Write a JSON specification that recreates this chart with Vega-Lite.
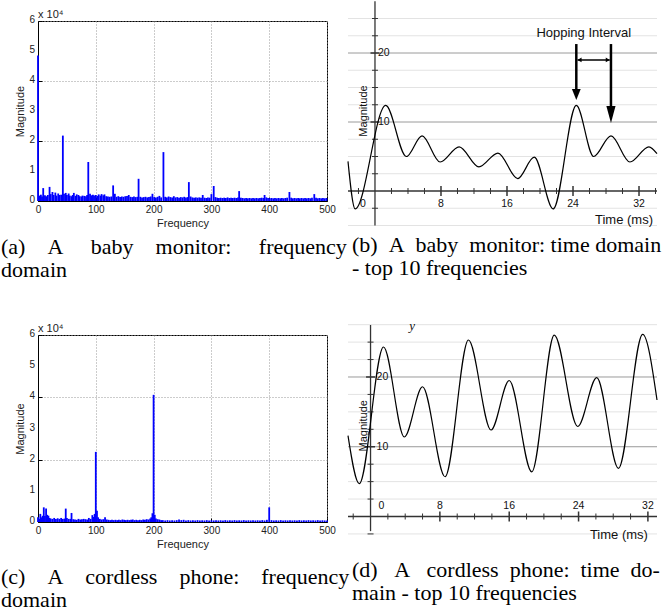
{
  "$schema": "https://vega.github.io/schema/vega-lite/v6.json",
  "padding": 0,
  "background": "white",
  "columns": 2,
  "bounds": "flush",
  "align": "each",
  "spacing": {"row": 134, "column": 21},
  "config": {"view": {"stroke": null}, "font": "Liberation Sans"},
  "datasets": {
    "specA": [
      {"f":0,"m":48500},{"f":2,"m":1800},{"f":5,"m":2100},{"f":7,"m":1500},{"f":9,"m":4300},{"f":12,"m":1900},{"f":14,"m":1600},{"f":17,"m":2000},{"f":20,"m":4700},{"f":22,"m":2300},{"f":25,"m":3000},{"f":27,"m":2000},{"f":30,"m":2800},{"f":32,"m":1800},{"f":35,"m":2500},{"f":37,"m":2000},{"f":40,"m":2100},{"f":43,"m":21800},{"f":45,"m":2400},{"f":48,"m":2700},{"f":50,"m":2000},{"f":53,"m":2500},{"f":55,"m":1800},{"f":58,"m":1600},{"f":60,"m":2000},{"f":62,"m":2700},{"f":65,"m":1700},{"f":67,"m":2200},{"f":70,"m":2000},{"f":72,"m":1600},{"f":75,"m":1500},{"f":77,"m":1800},{"f":80,"m":1700},{"f":83,"m":1600},{"f":85,"m":2000},{"f":87,"m":13000},{"f":90,"m":2400},{"f":92,"m":1900},{"f":95,"m":2100},{"f":97,"m":1800},{"f":100,"m":2000},{"f":103,"m":1700},{"f":105,"m":2200},{"f":108,"m":1800},{"f":110,"m":2300},{"f":113,"m":1900},{"f":115,"m":2200},{"f":118,"m":1600},{"f":121,"m":1500},{"f":124,"m":1400},{"f":127,"m":1500},{"f":130,"m":5200},{"f":133,"m":2400},{"f":136,"m":1400},{"f":139,"m":1600},{"f":142,"m":1300},{"f":145,"m":1500},{"f":148,"m":1400},{"f":151,"m":1600},{"f":154,"m":1700},{"f":157,"m":2000},{"f":160,"m":1400},{"f":163,"m":1300},{"f":166,"m":1500},{"f":169,"m":1300},{"f":172,"m":1400},{"f":174,"m":7400},{"f":177,"m":1400},{"f":180,"m":1200},{"f":183,"m":1300},{"f":186,"m":1400},{"f":189,"m":1200},{"f":192,"m":1300},{"f":195,"m":1500},{"f":198,"m":2400},{"f":201,"m":1300},{"f":204,"m":1200},{"f":207,"m":1400},{"f":210,"m":1700},{"f":213,"m":1200},{"f":217,"m":16300},{"f":220,"m":1400},{"f":223,"m":1200},{"f":226,"m":1500},{"f":229,"m":1300},{"f":232,"m":1200},{"f":235,"m":1600},{"f":238,"m":1200},{"f":241,"m":1300},{"f":244,"m":1100},{"f":247,"m":1300},{"f":250,"m":1200},{"f":253,"m":1400},{"f":256,"m":1200},{"f":259,"m":1300},{"f":261,"m":6300},{"f":264,"m":1500},{"f":267,"m":1200},{"f":270,"m":1100},{"f":273,"m":1200},{"f":276,"m":1100},{"f":279,"m":1200},{"f":282,"m":1100},{"f":285,"m":2000},{"f":288,"m":1100},{"f":291,"m":1000},{"f":294,"m":1200},{"f":297,"m":1100},{"f":300,"m":2300},{"f":304,"m":5000},{"f":307,"m":1300},{"f":310,"m":1100},{"f":313,"m":1000},{"f":316,"m":1100},{"f":319,"m":1000},{"f":322,"m":1100},{"f":325,"m":1000},{"f":328,"m":1200},{"f":331,"m":1000},{"f":334,"m":1100},{"f":337,"m":1000},{"f":340,"m":1100},{"f":343,"m":1000},{"f":346,"m":1200},{"f":348,"m":3300},{"f":351,"m":1100},{"f":354,"m":1000},{"f":357,"m":900},{"f":360,"m":1000},{"f":363,"m":900},{"f":366,"m":1000},{"f":369,"m":900},{"f":372,"m":1000},{"f":375,"m":900},{"f":378,"m":1000},{"f":381,"m":900},{"f":384,"m":1000},{"f":387,"m":1100},{"f":390,"m":1000},{"f":392,"m":2000},{"f":395,"m":1200},{"f":398,"m":1000},{"f":401,"m":900},{"f":404,"m":1000},{"f":407,"m":900},{"f":410,"m":1000},{"f":413,"m":900},{"f":416,"m":1000},{"f":419,"m":900},{"f":422,"m":1000},{"f":425,"m":900},{"f":428,"m":1000},{"f":431,"m":1100},{"f":435,"m":3000},{"f":438,"m":1100},{"f":441,"m":900},{"f":444,"m":1000},{"f":447,"m":900},{"f":450,"m":1000},{"f":453,"m":900},{"f":456,"m":1000},{"f":459,"m":900},{"f":462,"m":1000},{"f":465,"m":900},{"f":468,"m":1000},{"f":471,"m":900},{"f":474,"m":1100},{"f":478,"m":2300},{"f":481,"m":1100},{"f":484,"m":900},{"f":487,"m":1000},{"f":490,"m":900},{"f":493,"m":1000},{"f":496,"m":900},{"f":499,"m":1000}
    ],
    "specC": [
      {"f":0,"m":1500},{"f":2,"m":1000},{"f":4,"m":2600},{"f":6,"m":1500},{"f":8,"m":2000},{"f":10,"m":4700},{"f":12,"m":1900},{"f":14,"m":4300},{"f":16,"m":2300},{"f":18,"m":2000},{"f":20,"m":1300},{"f":22,"m":1100},{"f":25,"m":1000},{"f":28,"m":1300},{"f":31,"m":1000},{"f":34,"m":1200},{"f":37,"m":1000},{"f":40,"m":1300},{"f":43,"m":1000},{"f":46,"m":1100},{"f":48,"m":4300},{"f":50,"m":1300},{"f":53,"m":1000},{"f":56,"m":1000},{"f":58,"m":2900},{"f":61,"m":900},{"f":64,"m":800},{"f":67,"m":700},{"f":70,"m":1000},{"f":73,"m":800},{"f":76,"m":900},{"f":79,"m":1000},{"f":82,"m":900},{"f":85,"m":800},{"f":88,"m":1300},{"f":91,"m":1000},{"f":94,"m":2200},{"f":96,"m":1600},{"f":98,"m":2600},{"f":100,"m":22500},{"f":102,"m":3600},{"f":104,"m":1500},{"f":107,"m":1000},{"f":110,"m":800},{"f":113,"m":900},{"f":116,"m":1500},{"f":119,"m":800},{"f":122,"m":700},{"f":125,"m":600},{"f":128,"m":700},{"f":131,"m":600},{"f":134,"m":700},{"f":137,"m":600},{"f":140,"m":700},{"f":143,"m":600},{"f":146,"m":800},{"f":149,"m":700},{"f":152,"m":600},{"f":155,"m":700},{"f":158,"m":600},{"f":161,"m":700},{"f":164,"m":800},{"f":167,"m":600},{"f":170,"m":700},{"f":173,"m":600},{"f":176,"m":700},{"f":179,"m":600},{"f":182,"m":800},{"f":185,"m":700},{"f":188,"m":900},{"f":191,"m":800},{"f":194,"m":1100},{"f":196,"m":1500},{"f":198,"m":2800},{"f":200,"m":40800},{"f":202,"m":2300},{"f":204,"m":1100},{"f":207,"m":900},{"f":210,"m":800},{"f":213,"m":600},{"f":216,"m":600},{"f":220,"m":500},{"f":224,"m":600},{"f":228,"m":500},{"f":232,"m":600},{"f":236,"m":500},{"f":240,"m":600},{"f":244,"m":800},{"f":248,"m":600},{"f":252,"m":700},{"f":256,"m":500},{"f":260,"m":600},{"f":264,"m":500},{"f":268,"m":550},{"f":272,"m":500},{"f":276,"m":600},{"f":280,"m":500},{"f":284,"m":550},{"f":288,"m":500},{"f":292,"m":600},{"f":296,"m":500},{"f":300,"m":550},{"f":304,"m":500},{"f":308,"m":600},{"f":312,"m":500},{"f":316,"m":550},{"f":320,"m":500},{"f":324,"m":600},{"f":328,"m":500},{"f":332,"m":550},{"f":336,"m":500},{"f":340,"m":600},{"f":344,"m":500},{"f":348,"m":550},{"f":352,"m":500},{"f":356,"m":600},{"f":360,"m":500},{"f":364,"m":550},{"f":368,"m":500},{"f":372,"m":600},{"f":376,"m":500},{"f":380,"m":550},{"f":384,"m":500},{"f":388,"m":600},{"f":392,"m":500},{"f":396,"m":700},{"f":400,"m":4700},{"f":404,"m":600},{"f":408,"m":500},{"f":412,"m":550},{"f":416,"m":500},{"f":420,"m":600},{"f":424,"m":500},{"f":428,"m":550},{"f":432,"m":500},{"f":436,"m":600},{"f":440,"m":500},{"f":444,"m":550},{"f":448,"m":500},{"f":452,"m":600},{"f":456,"m":500},{"f":460,"m":550},{"f":464,"m":500},{"f":468,"m":600},{"f":472,"m":500},{"f":476,"m":550},{"f":480,"m":500},{"f":484,"m":600},{"f":488,"m":500},{"f":492,"m":550},{"f":496,"m":500},{"f":500,"m":500}
    ],
    "yLabels": [
      {"m":0,"label":"0"},{"m":10000,"label":"1"},{"m":20000,"label":"2"},{"m":30000,"label":"3"},{"m":40000,"label":"4"},{"m":50000,"label":"5"},{"m":60000,"label":"6"}
    ],
    "curveB": [
      {"t":-3.27,"v":4.3},{"t":-2.4,"v":-2.6},{"t":1.3,"v":12.4},{"t":3.8,"v":5.0},{"t":5.7,"v":8.0},{"t":7.9,"v":4.2},{"t":10.2,"v":6.4},{"t":12.6,"v":3.5},{"t":14.9,"v":5.5},{"t":17.3,"v":1.8},{"t":19.3,"v":4.9},{"t":21.6,"v":-2.6},{"t":24.4,"v":12.4},{"t":26.5,"v":5.0},{"t":28.6,"v":8.0},{"t":30.9,"v":4.2},{"t":33.2,"v":6.4},{"t":34.18,"v":5.4}
    ],
    "curveD": [
      {"t":-2.6,"v":11.6},{"t":-1.3,"v":4.7},{"t":1.5,"v":24.3},{"t":3.9,"v":11.4},{"t":6.0,"v":18.6},{"t":8.6,"v":5.7},{"t":11.3,"v":25.3},{"t":13.9,"v":12.4},{"t":16.0,"v":19.5},{"t":18.6,"v":6.4},{"t":21.2,"v":26.0},{"t":23.9,"v":12.9},{"t":26.1,"v":19.9},{"t":28.6,"v":6.9},{"t":31.4,"v":26.1},{"t":33.05,"v":16.7}
    ]
  },
  "concat": [
    {
      "width": 289, "height": 180,
      "view": {"stroke": "black", "strokeWidth": 1},
      "title": {"text": ["(a)\u00a0\u00a0\u00a0\u00a0A\u00a0\u00a0\u00a0\u00a0\u00a0baby\u00a0\u00a0\u00a0\u00a0monitor:\u00a0\u00a0\u00a0\u00a0\u00a0frequency", "domain"], "orient": "bottom", "anchor": "start", "frame": "group", "dx": -37, "offset": 9, "font": "Liberation Serif", "fontSize": 22, "fontWeight": "normal", "lineHeight": 23, "color": "black"},
      "layer": [
        {
          "data": {"name": "specA"},
          "mark": {"type": "rule", "color": "#0000ff", "strokeWidth": 1.8},
          "encoding": {
            "x": {"field": "f", "type": "quantitative", "scale": {"domain": [0, 500], "nice": false, "zero": false},
              "axis": {"values": [0,100,200,300,400,500], "title": "Frequency", "grid": true, "gridDash": [1,2], "gridColor": "#999999", "gridOpacity": 1, "domainColor": "black", "tickColor": "black", "tickSize": -4, "labelFont": "Liberation Sans", "labelFontSize": 10, "labelColor": "#222222", "labelPadding": 7, "titleFont": "Liberation Sans", "titleFontSize": 11, "titleFontWeight": "normal", "titleColor": "#222222", "titlePadding": 3, "labelFlush": false, "labelOverlap": false}},
            "y": {"field": "m", "type": "quantitative", "scale": {"domain": [0, 60000], "nice": false, "zero": false},
              "axis": {"values": [0,10000,20000,30000,40000,50000,60000], "labels": false, "title": "Magnitude", "grid": true, "gridDash": [1,2], "gridColor": "#999999", "gridOpacity": 1, "domainColor": "black", "tickColor": "black", "tickSize": -4, "titleFont": "Liberation Sans", "titleFontSize": 11, "titleFontWeight": "normal", "titleColor": "#222222", "titlePadding": 12}},
            "y2": {"datum": 0}
          }
        },
        {
          "data": {"name": "yLabels"},
          "mark": {"type": "text", "align": "right", "baseline": "middle", "dx": -3, "dy": -1, "fontSize": 10, "font": "Liberation Sans", "color": "#222222"},
          "encoding": {
            "x": {"datum": 0, "type": "quantitative", "scale": {"domain": [0, 500], "nice": false, "zero": false}},
            "y": {"field": "m", "type": "quantitative", "scale": {"domain": [0, 60000], "nice": false, "zero": false}},
            "text": {"field": "label"}
          }
        },
        {
          "data": {"values": [{"label": "x 10\u2074"}]},
          "mark": {"type": "text", "align": "left", "baseline": "bottom", "dy": -1, "fontSize": 11, "font": "Liberation Sans", "color": "#222222"},
          "encoding": {
            "x": {"datum": 0, "type": "quantitative", "scale": {"domain": [0, 500], "nice": false, "zero": false}},
            "y": {"datum": 60000, "type": "quantitative", "scale": {"domain": [0, 60000], "nice": false, "zero": false}},
            "text": {"field": "label"}
          }
        }
      ]
    },
    {
      "width": 309, "height": 180,
      "title": {"text": ["(b)\u00a0\u00a0A\u00a0\u00a0baby\u00a0\u00a0monitor:\u00a0time\u00a0domain", "- top 10 frequencies"], "orient": "bottom", "anchor": "start", "frame": "group", "dx": 4, "offset": 8, "font": "Liberation Serif", "fontSize": 22, "fontWeight": "normal", "lineHeight": 23, "color": "black"},
      "layer": [
        {"data": {"values": [{"v":-5},{"v":-2.5},{"v":2.5},{"v":5},{"v":7.5},{"v":12.5},{"v":15},{"v":17.5},{"v":22.5},{"v":25}]},
         "mark": {"type": "rule", "color": "#e3e3e3", "strokeWidth": 1},
         "encoding": {"y": {"field": "v", "type": "quantitative", "scale": {"domain": [-1.45, 24.64], "nice": false, "zero": false}, "axis": null}}},
        {"data": {"values": [{"v":10},{"v":20}]},
         "mark": {"type": "rule", "color": "#9a9a9a", "strokeWidth": 1},
         "encoding": {"y": {"field": "v", "type": "quantitative", "scale": {"domain": [-1.45, 24.64], "nice": false, "zero": false}, "axis": null}}},
        {"data": {"values": [{"k": "x"}]},
         "mark": {"type": "rule", "color": "#333333", "strokeWidth": 1.3},
         "encoding": {"y": {"datum": 0, "type": "quantitative", "scale": {"domain": [-1.45, 24.64], "nice": false, "zero": false}, "axis": null}}},
        {"data": {"values": [{"k": "y"}]},
         "mark": {"type": "rule", "color": "#333333", "strokeWidth": 1.3},
         "encoding": {
           "x": {"datum": 0, "type": "quantitative", "scale": {"domain": [-3.27, 34.18], "nice": false, "zero": false}, "axis": null},
           "y": {"datum": -5, "type": "quantitative", "scale": {"domain": [-1.45, 24.64], "nice": false, "zero": false}, "axis": null},
           "y2": {"datum": 27.5}}},
        {"data": {"values": [{"t":-2},{"t":2},{"t":4},{"t":6},{"t":10},{"t":12},{"t":14},{"t":18},{"t":20},{"t":22},{"t":26},{"t":28},{"t":30},{"t":34}]},
         "mark": {"type": "tick", "orient": "vertical", "size": 6, "thickness": 1, "color": "#333333", "opacity": 1},
         "encoding": {
           "x": {"field": "t", "type": "quantitative", "scale": {"domain": [-3.27, 34.18], "nice": false, "zero": false}, "axis": null},
           "y": {"datum": 0, "type": "quantitative", "scale": {"domain": [-1.45, 24.64], "nice": false, "zero": false}, "axis": null}}},
        {"data": {"values": [{"t":8},{"t":16},{"t":24},{"t":32}]},
         "mark": {"type": "tick", "orient": "vertical", "size": 10, "thickness": 1.5, "color": "#333333", "opacity": 1},
         "encoding": {
           "x": {"field": "t", "type": "quantitative", "scale": {"domain": [-3.27, 34.18], "nice": false, "zero": false}, "axis": null},
           "y": {"datum": 0, "type": "quantitative", "scale": {"domain": [-1.45, 24.64], "nice": false, "zero": false}, "axis": null}}},
        {"data": {"values": [{"v":-2.5},{"v":2.5},{"v":5},{"v":7.5},{"v":12.5},{"v":15},{"v":17.5},{"v":22.5},{"v":25}]},
         "mark": {"type": "tick", "orient": "horizontal", "size": 6, "thickness": 1, "color": "#333333", "opacity": 1},
         "encoding": {
           "x": {"datum": 0, "type": "quantitative", "scale": {"domain": [-3.27, 34.18], "nice": false, "zero": false}, "axis": null},
           "y": {"field": "v", "type": "quantitative", "scale": {"domain": [-1.45, 24.64], "nice": false, "zero": false}, "axis": null}}},
        {"data": {"values": [{"v":10},{"v":20}]},
         "mark": {"type": "tick", "orient": "horizontal", "size": 9, "thickness": 1.5, "color": "#333333", "opacity": 1},
         "encoding": {
           "x": {"datum": 0, "type": "quantitative", "scale": {"domain": [-3.27, 34.18], "nice": false, "zero": false}, "axis": null},
           "y": {"field": "v", "type": "quantitative", "scale": {"domain": [-1.45, 24.64], "nice": false, "zero": false}, "axis": null}}},
        {"data": {"values": [{"t":8},{"t":16},{"t":24},{"t":32}]},
         "mark": {"type": "text", "align": "center", "baseline": "middle", "dy": 13, "fontSize": 10.5, "font": "Liberation Sans", "color": "#111111"},
         "encoding": {
           "x": {"field": "t", "type": "quantitative", "scale": {"domain": [-3.27, 34.18], "nice": false, "zero": false}, "axis": null},
           "y": {"datum": 0, "type": "quantitative", "scale": {"domain": [-1.45, 24.64], "nice": false, "zero": false}, "axis": null},
           "text": {"field": "t"}}},
        {"data": {"values": [{"t":0}]},
         "mark": {"type": "text", "align": "center", "baseline": "middle", "dx": -12, "dy": 13, "fontSize": 10.5, "font": "Liberation Sans", "color": "#111111"},
         "encoding": {
           "x": {"field": "t", "type": "quantitative", "scale": {"domain": [-3.27, 34.18], "nice": false, "zero": false}, "axis": null},
           "y": {"datum": 0, "type": "quantitative", "scale": {"domain": [-1.45, 24.64], "nice": false, "zero": false}, "axis": null},
           "text": {"field": "t"}}},
        {"data": {"values": [{"v":10},{"v":20}]},
         "mark": {"type": "text", "align": "left", "baseline": "middle", "dx": 3, "fontSize": 10.5, "font": "Liberation Sans", "color": "#111111"},
         "encoding": {
           "x": {"datum": 0, "type": "quantitative", "scale": {"domain": [-3.27, 34.18], "nice": false, "zero": false}, "axis": null},
           "y": {"field": "v", "type": "quantitative", "scale": {"domain": [-1.45, 24.64], "nice": false, "zero": false}, "axis": null},
           "text": {"field": "v"}}},
        {"data": {"values": [{"label": "Magnitude"}]},
         "mark": {"type": "text", "align": "center", "baseline": "middle", "angle": 270, "fontSize": 11, "font": "Liberation Sans", "color": "#111111"},
         "encoding": {
           "x": {"datum": -1.3, "type": "quantitative", "scale": {"domain": [-3.27, 34.18], "nice": false, "zero": false}, "axis": null},
           "y": {"datum": 11.6, "type": "quantitative", "scale": {"domain": [-1.45, 24.64], "nice": false, "zero": false}, "axis": null},
           "text": {"field": "label"}}},
        {"data": {"values": [{"label": "Time (ms)"}]},
         "mark": {"type": "text", "align": "right", "baseline": "middle", "fontSize": 13, "font": "Liberation Sans", "color": "#111111"},
         "encoding": {
           "x": {"datum": 33.7, "type": "quantitative", "scale": {"domain": [-3.27, 34.18], "nice": false, "zero": false}, "axis": null},
           "y": {"datum": -4.2, "type": "quantitative", "scale": {"domain": [-1.45, 24.64], "nice": false, "zero": false}, "axis": null},
           "text": {"field": "label"}}},
        {"data": {"name": "curveB"},
         "mark": {"type": "line", "color": "black", "strokeWidth": 1.2, "interpolate": "monotone"},
         "encoding": {
           "x": {"field": "t", "type": "quantitative", "scale": {"domain": [-3.27, 34.18], "nice": false, "zero": false}, "axis": null},
           "y": {"field": "v", "type": "quantitative", "scale": {"domain": [-1.45, 24.64], "nice": false, "zero": false}, "axis": null}}},
        {"data": {"values": [{"label": "Hopping Interval"}]},
         "mark": {"type": "text", "align": "center", "baseline": "middle", "fontSize": 13, "font": "Liberation Sans", "color": "#111111"},
         "encoding": {
           "x": {"datum": 25.3, "type": "quantitative", "scale": {"domain": [-3.27, 34.18], "nice": false, "zero": false}, "axis": null},
           "y": {"datum": 22.9, "type": "quantitative", "scale": {"domain": [-1.45, 24.64], "nice": false, "zero": false}, "axis": null},
           "text": {"field": "label"}}},
        {"data": {"values": [{"t":24.4,"v":21.3,"v2":14.6},{"t":28.6,"v":21.3,"v2":12.3}]},
         "mark": {"type": "rule", "color": "black", "strokeWidth": 2.5},
         "encoding": {
           "x": {"field": "t", "type": "quantitative", "scale": {"domain": [-3.27, 34.18], "nice": false, "zero": false}, "axis": null},
           "y": {"field": "v", "type": "quantitative", "scale": {"domain": [-1.45, 24.64], "nice": false, "zero": false}, "axis": null},
           "y2": {"field": "v2"}}},
        {"data": {"values": [{"t":24.4,"v":13.19}]},
         "mark": {"type": "point", "filled": true, "color": "black", "opacity": 1, "shape": "M0,0L-0.4,-1L0.4,-1Z", "size": 484, "strokeWidth": 0},
         "encoding": {
           "x": {"field": "t", "type": "quantitative", "scale": {"domain": [-3.27, 34.18], "nice": false, "zero": false}, "axis": null},
           "y": {"field": "v", "type": "quantitative", "scale": {"domain": [-1.45, 24.64], "nice": false, "zero": false}, "axis": null}}},
        {"data": {"values": [{"t":28.6,"v":9.86}]},
         "mark": {"type": "point", "filled": true, "color": "black", "opacity": 1, "shape": "M0,0L-0.27,-1L0.27,-1Z", "size": 1156, "strokeWidth": 0},
         "encoding": {
           "x": {"field": "t", "type": "quantitative", "scale": {"domain": [-3.27, 34.18], "nice": false, "zero": false}, "axis": null},
           "y": {"field": "v", "type": "quantitative", "scale": {"domain": [-1.45, 24.64], "nice": false, "zero": false}, "axis": null}}},
        {"data": {"values": [{"t":24.55,"t2":28.45,"v":19.0}]},
         "mark": {"type": "rule", "color": "black", "strokeWidth": 1.5},
         "encoding": {
           "x": {"field": "t", "type": "quantitative", "scale": {"domain": [-3.27, 34.18], "nice": false, "zero": false}, "axis": null},
           "x2": {"field": "t2"},
           "y": {"field": "v", "type": "quantitative", "scale": {"domain": [-1.45, 24.64], "nice": false, "zero": false}, "axis": null}}},
        {"data": {"values": [{"t":24.55,"v":19.0}]},
         "mark": {"type": "point", "filled": true, "color": "black", "opacity": 1, "shape": "M0,0L1,-0.6L1,0.6Z", "size": 64, "strokeWidth": 0},
         "encoding": {
           "x": {"field": "t", "type": "quantitative", "scale": {"domain": [-3.27, 34.18], "nice": false, "zero": false}, "axis": null},
           "y": {"field": "v", "type": "quantitative", "scale": {"domain": [-1.45, 24.64], "nice": false, "zero": false}, "axis": null}}},
        {"data": {"values": [{"t":28.45,"v":19.0}]},
         "mark": {"type": "point", "filled": true, "color": "black", "opacity": 1, "shape": "M0,0L-1,-0.6L-1,0.6Z", "size": 64, "strokeWidth": 0},
         "encoding": {
           "x": {"field": "t", "type": "quantitative", "scale": {"domain": [-3.27, 34.18], "nice": false, "zero": false}, "axis": null},
           "y": {"field": "v", "type": "quantitative", "scale": {"domain": [-1.45, 24.64], "nice": false, "zero": false}, "axis": null}}}
      ]
    },
    {
      "width": 289, "height": 187,
      "view": {"stroke": "black", "strokeWidth": 1},
      "title": {"text": ["(c)\u00a0\u00a0\u00a0\u00a0A\u00a0\u00a0\u00a0\u00a0cordless\u00a0\u00a0\u00a0\u00a0phone:\u00a0\u00a0\u00a0\u00a0frequency", "domain"], "orient": "bottom", "anchor": "start", "frame": "group", "dx": -37, "offset": 18, "font": "Liberation Serif", "fontSize": 22, "fontWeight": "normal", "lineHeight": 23, "color": "black"},
      "layer": [
        {
          "data": {"name": "specC"},
          "mark": {"type": "rule", "color": "#0000ff", "strokeWidth": 1.8},
          "encoding": {
            "x": {"field": "f", "type": "quantitative", "scale": {"domain": [0, 500], "nice": false, "zero": false},
              "axis": {"values": [0,100,200,300,400,500], "title": "Frequency", "grid": true, "gridDash": [1,2], "gridColor": "#999999", "gridOpacity": 1, "domainColor": "black", "tickColor": "black", "tickSize": -4, "labelFont": "Liberation Sans", "labelFontSize": 10, "labelColor": "#222222", "labelPadding": 7, "titleFont": "Liberation Sans", "titleFontSize": 11, "titleFontWeight": "normal", "titleColor": "#222222", "titlePadding": 3, "labelFlush": false, "labelOverlap": false}},
            "y": {"field": "m", "type": "quantitative", "scale": {"domain": [0, 60000], "nice": false, "zero": false},
              "axis": {"values": [0,10000,20000,30000,40000,50000,60000], "labels": false, "title": "Magnitude", "grid": true, "gridDash": [1,2], "gridColor": "#999999", "gridOpacity": 1, "domainColor": "black", "tickColor": "black", "tickSize": -4, "titleFont": "Liberation Sans", "titleFontSize": 11, "titleFontWeight": "normal", "titleColor": "#222222", "titlePadding": 12}},
            "y2": {"datum": 0}
          }
        },
        {
          "data": {"name": "yLabels"},
          "mark": {"type": "text", "align": "right", "baseline": "middle", "dx": -3, "dy": -1, "fontSize": 10, "font": "Liberation Sans", "color": "#222222"},
          "encoding": {
            "x": {"datum": 0, "type": "quantitative", "scale": {"domain": [0, 500], "nice": false, "zero": false}},
            "y": {"field": "m", "type": "quantitative", "scale": {"domain": [0, 60000], "nice": false, "zero": false}},
            "text": {"field": "label"}
          }
        },
        {
          "data": {"values": [{"label": "x 10\u2074"}]},
          "mark": {"type": "text", "align": "left", "baseline": "bottom", "dy": -1, "fontSize": 11, "font": "Liberation Sans", "color": "#222222"},
          "encoding": {
            "x": {"datum": 0, "type": "quantitative", "scale": {"domain": [0, 500], "nice": false, "zero": false}},
            "y": {"datum": 60000, "type": "quantitative", "scale": {"domain": [0, 60000], "nice": false, "zero": false}},
            "text": {"field": "label"}
          }
        }
      ]
    },
    {
      "width": 309, "height": 187,
      "title": {"text": ["(d)\u00a0\u00a0\u00a0A\u00a0\u00a0\u00a0cordless\u00a0\u00a0phone:\u00a0\u00a0time\u00a0\u00a0do-", "main - top 10 frequencies"], "orient": "bottom", "anchor": "start", "frame": "group", "dx": 4, "offset": 18, "font": "Liberation Serif", "fontSize": 22, "fontWeight": "normal", "lineHeight": 23, "color": "black"},
      "layer": [
        {"data": {"values": [{"v":-2.5},{"v":2.5},{"v":5},{"v":7.5},{"v":12.5},{"v":15},{"v":17.5},{"v":22.5},{"v":25},{"v":27.5}]},
         "mark": {"type": "rule", "color": "#e3e3e3", "strokeWidth": 1},
         "encoding": {"y": {"field": "v", "type": "quantitative", "scale": {"domain": [-0.79, 26.02], "nice": false, "zero": false}, "axis": null}}},
        {"data": {"values": [{"v":10},{"v":20}]},
         "mark": {"type": "rule", "color": "#9a9a9a", "strokeWidth": 1},
         "encoding": {"y": {"field": "v", "type": "quantitative", "scale": {"domain": [-0.79, 26.02], "nice": false, "zero": false}, "axis": null}}},
        {"data": {"values": [{"k": "x"}]},
         "mark": {"type": "rule", "color": "#333333", "strokeWidth": 1.3},
         "encoding": {"y": {"datum": 0, "type": "quantitative", "scale": {"domain": [-0.79, 26.02], "nice": false, "zero": false}, "axis": null}}},
        {"data": {"values": [{"k": "y"}]},
         "mark": {"type": "rule", "color": "#333333", "strokeWidth": 1.3},
         "encoding": {
           "x": {"datum": 0, "type": "quantitative", "scale": {"domain": [-2.6, 33.05], "nice": false, "zero": false}, "axis": null},
           "y": {"datum": -2.1, "type": "quantitative", "scale": {"domain": [-0.79, 26.02], "nice": false, "zero": false}, "axis": null},
           "y2": {"datum": 27.45}}},
        {"data": {"values": [{"t":-2},{"t":2},{"t":4},{"t":6},{"t":10},{"t":12},{"t":14},{"t":18},{"t":20},{"t":22},{"t":26},{"t":28},{"t":30}]},
         "mark": {"type": "tick", "orient": "vertical", "size": 6, "thickness": 1, "color": "#333333", "opacity": 1},
         "encoding": {
           "x": {"field": "t", "type": "quantitative", "scale": {"domain": [-2.6, 33.05], "nice": false, "zero": false}, "axis": null},
           "y": {"datum": 0, "type": "quantitative", "scale": {"domain": [-0.79, 26.02], "nice": false, "zero": false}, "axis": null}}},
        {"data": {"values": [{"t":8},{"t":16},{"t":24},{"t":32}]},
         "mark": {"type": "tick", "orient": "vertical", "size": 10, "thickness": 1.5, "color": "#333333", "opacity": 1},
         "encoding": {
           "x": {"field": "t", "type": "quantitative", "scale": {"domain": [-2.6, 33.05], "nice": false, "zero": false}, "axis": null},
           "y": {"datum": 0, "type": "quantitative", "scale": {"domain": [-0.79, 26.02], "nice": false, "zero": false}, "axis": null}}},
        {"data": {"values": [{"v":-2.5},{"v":2.5},{"v":5},{"v":7.5},{"v":12.5},{"v":15},{"v":17.5},{"v":22.5},{"v":25}]},
         "mark": {"type": "tick", "orient": "horizontal", "size": 6, "thickness": 1, "color": "#333333", "opacity": 1},
         "encoding": {
           "x": {"datum": 0, "type": "quantitative", "scale": {"domain": [-2.6, 33.05], "nice": false, "zero": false}, "axis": null},
           "y": {"field": "v", "type": "quantitative", "scale": {"domain": [-0.79, 26.02], "nice": false, "zero": false}, "axis": null}}},
        {"data": {"values": [{"v":10},{"v":20}]},
         "mark": {"type": "tick", "orient": "horizontal", "size": 9, "thickness": 1.5, "color": "#333333", "opacity": 1},
         "encoding": {
           "x": {"datum": 0, "type": "quantitative", "scale": {"domain": [-2.6, 33.05], "nice": false, "zero": false}, "axis": null},
           "y": {"field": "v", "type": "quantitative", "scale": {"domain": [-0.79, 26.02], "nice": false, "zero": false}, "axis": null}}},
        {"data": {"values": [{"t":8},{"t":16},{"t":24},{"t":32}]},
         "mark": {"type": "text", "align": "center", "baseline": "middle", "dy": -10.5, "fontSize": 10.5, "font": "Liberation Sans", "color": "#111111"},
         "encoding": {
           "x": {"field": "t", "type": "quantitative", "scale": {"domain": [-2.6, 33.05], "nice": false, "zero": false}, "axis": null},
           "y": {"datum": 0, "type": "quantitative", "scale": {"domain": [-0.79, 26.02], "nice": false, "zero": false}, "axis": null},
           "text": {"field": "t"}}},
        {"data": {"values": [{"t":0}]},
         "mark": {"type": "text", "align": "center", "baseline": "middle", "dx": 11, "dy": -10.5, "fontSize": 10.5, "font": "Liberation Sans", "color": "#111111"},
         "encoding": {
           "x": {"field": "t", "type": "quantitative", "scale": {"domain": [-2.6, 33.05], "nice": false, "zero": false}, "axis": null},
           "y": {"datum": 0, "type": "quantitative", "scale": {"domain": [-0.79, 26.02], "nice": false, "zero": false}, "axis": null},
           "text": {"field": "t"}}},
        {"data": {"values": [{"v":10},{"v":20}]},
         "mark": {"type": "text", "align": "left", "baseline": "middle", "dx": 6, "fontSize": 10.5, "font": "Liberation Sans", "color": "#111111"},
         "encoding": {
           "x": {"datum": 0, "type": "quantitative", "scale": {"domain": [-2.6, 33.05], "nice": false, "zero": false}, "axis": null},
           "y": {"field": "v", "type": "quantitative", "scale": {"domain": [-0.79, 26.02], "nice": false, "zero": false}, "axis": null},
           "text": {"field": "v"}}},
        {"data": {"values": [{"label": "Magnitude"}]},
         "mark": {"type": "text", "align": "center", "baseline": "middle", "angle": 270, "fontSize": 11, "font": "Liberation Sans", "color": "#111111"},
         "encoding": {
           "x": {"datum": -0.72, "type": "quantitative", "scale": {"domain": [-2.6, 33.05], "nice": false, "zero": false}, "axis": null},
           "y": {"datum": 13.0, "type": "quantitative", "scale": {"domain": [-0.79, 26.02], "nice": false, "zero": false}, "axis": null},
           "text": {"field": "label"}}},
        {"data": {"values": [{"label": "Time (ms)"}]},
         "mark": {"type": "text", "align": "right", "baseline": "middle", "fontSize": 13, "font": "Liberation Sans", "color": "#111111"},
         "encoding": {
           "x": {"datum": 32.0, "type": "quantitative", "scale": {"domain": [-2.6, 33.05], "nice": false, "zero": false}, "axis": null},
           "y": {"datum": -2.65, "type": "quantitative", "scale": {"domain": [-0.79, 26.02], "nice": false, "zero": false}, "axis": null},
           "text": {"field": "label"}}},
        {"data": {"name": "curveD"},
         "mark": {"type": "line", "color": "black", "strokeWidth": 1.2, "interpolate": "monotone"},
         "encoding": {
           "x": {"field": "t", "type": "quantitative", "scale": {"domain": [-2.6, 33.05], "nice": false, "zero": false}, "axis": null},
           "y": {"field": "v", "type": "quantitative", "scale": {"domain": [-0.79, 26.02], "nice": false, "zero": false}, "axis": null}}},
        {"data": {"values": [{"label": "y"}]},
         "mark": {"type": "text", "align": "center", "baseline": "middle", "fontSize": 13, "font": "Liberation Serif", "fontStyle": "italic", "color": "#111111"},
         "encoding": {
           "x": {"datum": 4.8, "type": "quantitative", "scale": {"domain": [-2.6, 33.05], "nice": false, "zero": false}, "axis": null},
           "y": {"datum": 27.3, "type": "quantitative", "scale": {"domain": [-0.79, 26.02], "nice": false, "zero": false}, "axis": null},
           "text": {"field": "label"}}}
      ]
    }
  ]
}
